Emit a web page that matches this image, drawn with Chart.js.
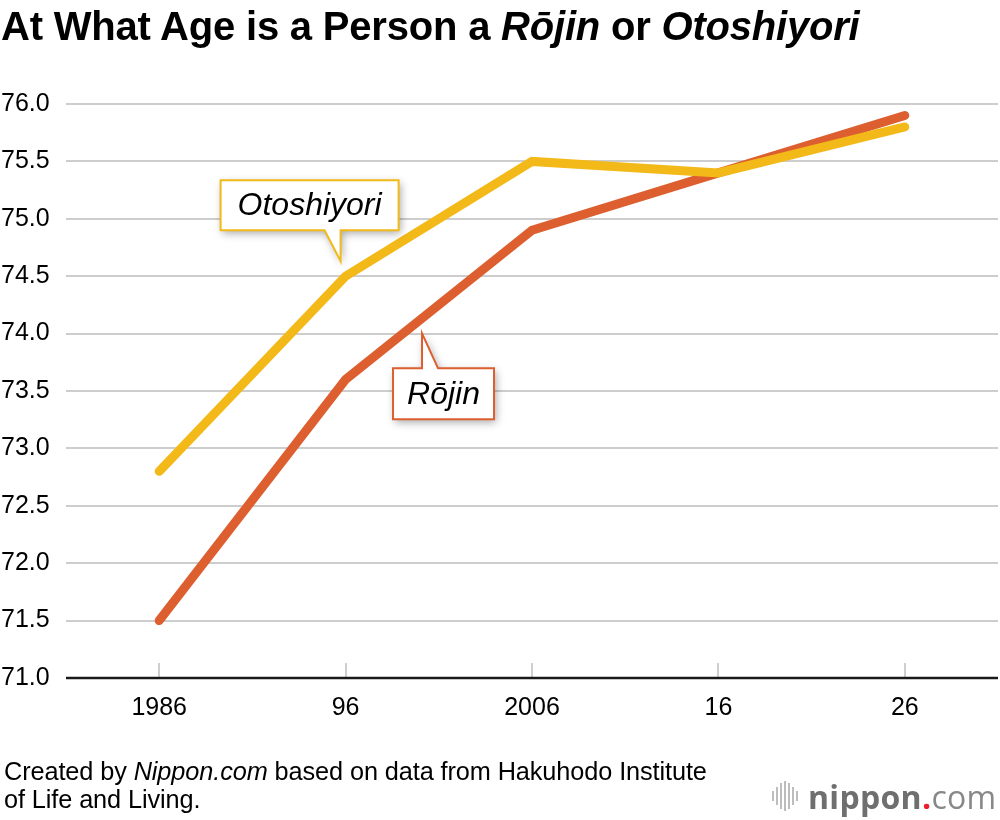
<!DOCTYPE html>
<html>
<head>
<meta charset="utf-8">
<script src="https://cdn.jsdelivr.net/npm/chart.js@4/dist/chart.umd.min.js"></script>
<style>
  html, body { margin: 0; padding: 0; background: #fff; }
  body { width: 1000px; height: 820px; position: relative; overflow: hidden; font-family: "Liberation Sans", Arial, Helvetica, sans-serif; }
  #title { position: absolute; left: 1px; top: 3px; font-size: 40px; line-height: 46px; font-weight: bold; color: #000; letter-spacing: -0.2px; white-space: nowrap; }
  #wrap { position: absolute; left: 0; top: 0; width: 1000px; height: 820px; }
  #footer { position: absolute; left: 4px; top: 757px; font-size: 25.3px; line-height: 28px; color: #000; letter-spacing: -0.1px; white-space: nowrap; }
  #logo { position: absolute; left: 772px; top: 776px; height: 40px; display: flex; align-items: center; white-space: nowrap; }
  #logo .bars { display: flex; align-items: center; margin-right: 8px; }
  #logo .bars span { display: inline-block; width: 2px; background: #bdbdbd; margin-right: 2px; }
  #logo .txt { font-family: "Open Sans", "DejaVu Sans", sans-serif; font-size: 32px; color: #6f6f6f; letter-spacing: 0.3px; }
  #logo .b { font-weight: 700; }
  #logo .dot { color: #e8202a; font-weight: 700; }
  #logo .c { font-weight: 400; color: #888; }
</style>
</head>
<body>
<div id="wrap"><canvas id="c" width="1000" height="820"></canvas></div>
<div id="title">At What Age is a Person a <i>Rōjin</i> or <i>Otoshiyori</i></div>
<div id="footer">Created by <i>Nippon.com</i> based on data from Hakuhodo Institute<br>of Life and Living.</div>
<div id="logo">
  <div class="bars">
    <span style="height:10px"></span><span style="height:18px"></span><span style="height:26px"></span><span style="height:30px"></span><span style="height:26px"></span><span style="height:18px"></span><span style="height:10px"></span>
  </div>
  <div class="txt"><span class="b">nippon</span><span class="dot">.</span><span class="c">com</span></div>
</div>
<script>
const categories = ["1986", "96", "2006", "16", "26"];
const otoshiyori = [72.8, 74.5, 75.5, 75.4, 75.8];
const rojin = [71.5, 73.6, 74.9, 75.4, 75.9];
const yTicks = [71.0, 71.5, 72.0, 72.5, 73.0, 73.5, 74.0, 74.5, 75.0, 75.5, 76.0];
const seriesNames = ["Otoshiyori", "Rōjin"];

const YELLOW = "#F2B918";
const ORANGE = "#DD5F2F";

const axisPlugin = {
  id: "axisDecor",
  afterDatasetsDraw(chart) {
    const ctx = chart.ctx;
    const area = chart.chartArea;
    const xs = chart.scales.x;
    ctx.save();
    ctx.strokeStyle = "#cfcfcf";
    ctx.lineWidth = 2;
    categories.forEach((c, i) => {
      const px = Math.round(xs.getPixelForValue(i));
      ctx.beginPath();
      ctx.moveTo(px, area.bottom - 15);
      ctx.lineTo(px, area.bottom);
      ctx.stroke();
    });
    ctx.strokeStyle = "#1a1a1a";
    ctx.lineWidth = 2.5;
    ctx.beginPath();
    ctx.moveTo(area.left, area.bottom);
    ctx.lineTo(area.right, area.bottom);
    ctx.stroke();
    ctx.restore();
  }
};

function callout(ctx, box, ptr, color, text) {
  ctx.save();
  ctx.beginPath();
  ctx.moveTo(box.l, box.t);
  if (ptr.side === "top") {
    ctx.lineTo(ptr.b1, box.t);
    ctx.lineTo(ptr.tx, ptr.ty);
    ctx.lineTo(ptr.b2, box.t);
    ctx.lineTo(box.r, box.t);
    ctx.lineTo(box.r, box.b);
    ctx.lineTo(box.l, box.b);
  } else {
    ctx.lineTo(box.r, box.t);
    ctx.lineTo(box.r, box.b);
    ctx.lineTo(ptr.b2, box.b);
    ctx.lineTo(ptr.tx, ptr.ty);
    ctx.lineTo(ptr.b1, box.b);
    ctx.lineTo(box.l, box.b);
  }
  ctx.closePath();
  ctx.shadowColor = "rgba(0,0,0,0.35)";
  ctx.shadowBlur = 8;
  ctx.shadowOffsetX = 2;
  ctx.shadowOffsetY = 3;
  ctx.fillStyle = "#fff";
  ctx.fill();
  ctx.shadowColor = "transparent";
  ctx.strokeStyle = color;
  ctx.lineWidth = 2;
  ctx.stroke();
  ctx.fillStyle = "#000";
  ctx.font = 'italic 32px "Liberation Sans", Arial, sans-serif';
  ctx.textAlign = "center";
  ctx.textBaseline = "middle";
  ctx.fillText(text, (box.l + box.r) / 2, (box.t + box.b) / 2 + 1);
  ctx.restore();
}

const calloutPlugin = {
  id: "callouts",
  afterDraw(chart) {
    const ctx = chart.ctx;
    const xs = chart.scales.x, ys = chart.scales.y;
    const ox = xs.getPixelForValue(1), oy = ys.getPixelForValue(otoshiyori[1]);
    callout(ctx,
      { l: ox - 125, t: oy - 96, r: ox + 53, b: oy - 46 },
      { side: "bottom", b1: ox - 21, b2: ox - 5, tx: ox - 5, ty: oy - 15 },
      YELLOW, seriesNames[0]);
    const rx = xs.getPixelForValue(1.41);
    const ry = ys.getPixelForValue(rojin[1] + (rojin[2] - rojin[1]) * 0.41);
    callout(ctx,
      { l: rx - 29, t: ry + 50, r: rx + 72, b: ry + 101 },
      { side: "top", b1: rx, b2: rx + 16, tx: rx, ty: ry + 15 },
      ORANGE, seriesNames[1]);
  }
};

new Chart(document.getElementById("c"), {
  type: "line",
  data: {
    labels: categories,
    datasets: [
      { label: seriesNames[1], data: rojin, borderColor: ORANGE, backgroundColor: ORANGE, borderWidth: 9, borderCapStyle: "round", borderJoinStyle: "miter", pointRadius: 0, tension: 0, order: 2 },
      { label: seriesNames[0], data: otoshiyori, borderColor: YELLOW, backgroundColor: YELLOW, borderWidth: 9, borderCapStyle: "round", borderJoinStyle: "miter", pointRadius: 0, tension: 0, order: 1 }
    ]
  },
  options: {
    responsive: false,
    animation: false,
    devicePixelRatio: 1,
    layout: { padding: { left: 1, right: 2, top: 104, bottom: 92 } },
    plugins: { legend: { display: false }, tooltip: { enabled: false }, title: { display: false } },
    scales: {
      x: {
        type: "category",
        offset: true,
        grid: { display: false, drawTicks: false },
        border: { display: false },
        ticks: { color: "#000", font: { family: '"Liberation Sans", Arial, sans-serif', size: 25 }, padding: 15, maxRotation: 0 },
        afterFit(s) { s.height = 50; }
      },
      y: {
        min: 71, max: 76,
        grid: { color: "#cdcdcd", lineWidth: 2, drawTicks: false },
        border: { display: false },
        afterBuildTicks(s) { s.ticks = yTicks.map(v => ({ value: v })); },
        ticks: {
          color: "#000",
          font: { family: '"Liberation Sans", Arial, sans-serif', size: 25 },
          crossAlign: "far",
          padding: 0,
          callback: v => Number(v).toFixed(1)
        },
        afterFit(s) { s.width = 65; }
      }
    }
  },
  plugins: [axisPlugin, calloutPlugin]
});
</script>
</body>
</html>
